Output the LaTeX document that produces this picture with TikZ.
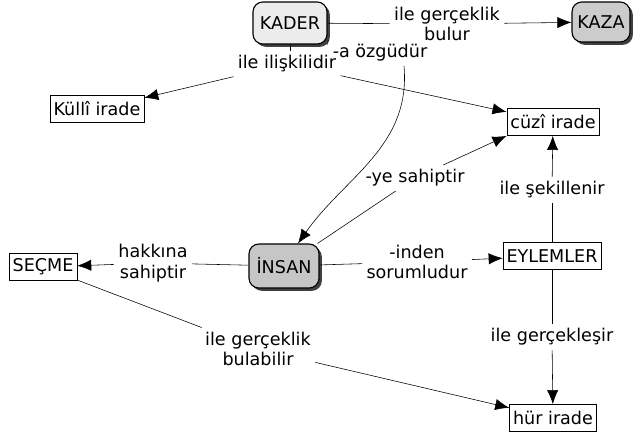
\documentclass[tikz,border=0pt]{standalone}
\usepackage{fontspec}
\setmainfont{DejaVu Sans}
\usepackage{tikz}
\usetikzlibrary{arrows.meta}
\usetikzlibrary{shadows}
\tikzset{>={Latex[length=10pt,width=8pt]}}
\tikzset{
  kavram/.style={draw, thick, rounded corners=7pt, minimum height=10.5mm,
    drop shadow={shadow xshift=2pt, shadow yshift=-2pt, fill=black!75, opacity=1}},
  kutu/.style={draw, inner xsep=2.5pt, minimum height=6.8mm},
  bag/.style={align=center, inner sep=3pt}
}

\begin{document}
\begin{tikzpicture}[x=0.25mm, y=-0.25mm, font=\fontsize{12.5}{14.5}\selectfont]
  \useasboundingbox (0,0) rectangle (642,437);
  % kavramlar
  \node[kavram, fill=gray!15, minimum width=18.5mm] (kader) at (290,23) {KADER};
  \node[kavram, fill=gray!40, minimum width=14.5mm, minimum height=10mm] (kaza) at (601,22) {KAZA};
  \node[kavram, fill=gray!45, minimum width=17.5mm, minimum height=11mm] (insan) at (284,266) {İNSAN};
  \node[kutu] (kulli) at (97,109) {Küllî irade};
  \node[kutu] (cuzi) at (553,122) {cüzî irade};
  \node[kutu] (secme) at (43,267) {SEÇME};
  \node[kutu] (eylem) at (552,256) {EYLEMLER};
  \node[kutu] (hur) at (553,418) {hür irade};
  % baglantilar
  \node[bag] (l1) at (447,24) {ile gerçeklik\\bulur};
  \node[bag] (l2) at (287,64) {ile ilişkilidir};
  \node[bag] (l3) at (380,53) {-a özgüdür};
  \node[bag] (l4) at (415,178) {-ye sahiptir};
  \node[bag] (l5) at (552,190) {ile şekillenir};
  \node[bag] (l6) at (153,263) {hakkına\\sahiptir};
  \node[bag] (l7) at (417,262) {-inden\\sorumludur};
  \node[bag] (l8) at (552,337) {ile gerçekleşir};
  \node[bag] (l9) at (258,349) {ile gerçeklik\\bulabilir};

  \draw (kader) -- (l1);
  \draw[->] (l1) -- (kaza);
  \draw (kader.south) -- (l2.north -| kader.south);
  \draw[->] (l2) -- (kulli);
  \draw[->] (l2) -- (cuzi);
  \draw (kader.south east) -- (l3.north west);
  \draw[->] ([xshift=6mm]l3.south) to[out=-85, in=55] ([xshift=3.5mm]insan.north);
  \draw (insan) -- (l4);
  \draw[->] (l4) -- (cuzi.south west);
  \draw (eylem) -- (l5);
  \draw[->] (l5) -- (cuzi);
  \draw (insan) -- (l6);
  \draw[->] (l6) -- (secme);
  \draw (insan) -- (l7);
  \draw[->] (l7) -- (eylem);
  \draw (eylem) -- (l8);
  \draw[->] (l8) -- (hur);
  \draw (secme) -- (l9);
  \draw[->] (l9) -- (hur);
\end{tikzpicture}
\end{document}
